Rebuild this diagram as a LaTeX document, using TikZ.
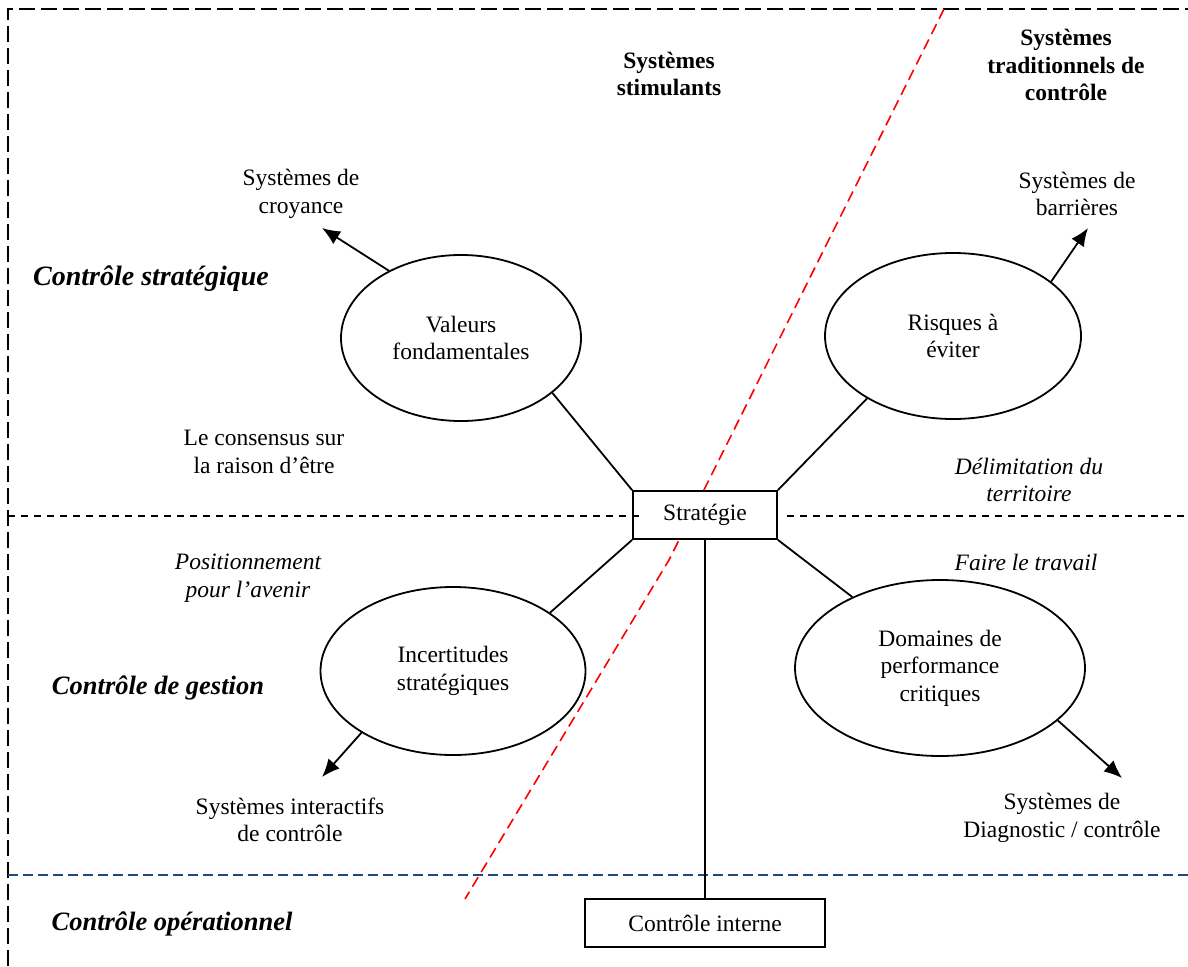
\documentclass[tikz,border=0pt]{standalone}
\usepackage{fontspec}
\setmainfont{Liberation Serif}
\usetikzlibrary{shapes.geometric,arrows.meta}
\definecolor{navy}{RGB}{31,73,125}
\begin{document}
\begin{tikzpicture}[x=1pt,y=-1pt,
  every node/.style={font=\fontsize{23.5}{27.5}\selectfont, align=center, inner sep=0pt},
  oval/.style={ellipse, draw, line width=1.8pt},
  rbox/.style={draw, line width=1.8pt, fill=white, rectangle},
  link/.style={line width=1.8pt},
  arr/.style={line width=1.8pt, -{Latex[length=18pt,width=15pt]}},
  head/.style={font=\fontsize{23.5}{27.5}\selectfont\bfseries},
  lvl/.style={font=\fontsize{26.5}{30}\selectfont\bfseries\itshape},
  note/.style={font=\fontsize{23.5}{27.5}\selectfont\itshape},
  frame/.style={line width=2pt, dash pattern=on 16pt off 6pt},
  sep/.style={line width=1.5pt, dash pattern=on 7pt off 6pt},
]
\useasboundingbox (0,0) rectangle (1188,966);
% frame
\coordinate (f1) at (8,9);
\coordinate (f2) at (1188,9);
\coordinate (f3) at (8,966);
\draw[frame] (f3) -- (f1) -- (f2);
% operational separator
\coordinate (b1) at (8,875);
\coordinate (b2) at (1188,875);
\draw[navy, line width=1.5pt, dash pattern=on 10pt off 5pt] (b1) -- (b2);
% red diagonal
\coordinate (r1) at (944,9);
\coordinate (r2) at (669,560);
\coordinate (r3) at (465,899);
\draw[red, line width=1.6pt, dash pattern=on 11pt off 6pt] (r1) -- (r2) -- (r3);

% ellipses
\node[oval, minimum width=240pt, minimum height=166pt] (val) at (461,338) {Valeurs\\fondamentales};
\node[oval, minimum width=256pt, minimum height=166pt] (ris) at (953,336) {Risques à\\éviter};
\node[oval, minimum width=265pt, minimum height=168pt] (inc) at (453,671) {Incertitudes\\stratégiques};
\node[oval, minimum width=290pt, minimum height=176pt] (dom) at (940,668) {Domaines de\\performance\\critiques};

% boxes
\node[rbox, minimum width=144pt, minimum height=48pt] (str) at (705,515) {Stratégie};
\node[rbox, minimum width=240pt, minimum height=48pt] (ci) at (705,923) {Contrôle interne};

% strategic separator
\coordinate (s1) at (8,516);
\coordinate (s2) at (643,516);
\coordinate (s3) at (787,516);
\coordinate (s4) at (1188,516);
\draw[sep] (s1) -- (s2);
\draw[sep] (s3) -- (s4);

% connectors
\draw[link] (str.north west) -- (val.-31.7);
\draw[link] (str.north east) -- (ris.-144.4);
\draw[link] (str.south west) -- (inc.31.5);
\draw[link] (str.south east) -- (dom.141.5);
\draw[link] (str.south) -- (ci.north);

% arrows
\coordinate (croyT) at (322,228);
\coordinate (barrT) at (1088,228);
\coordinate (interT) at (322,777);
\coordinate (diagT) at (1122,778);
\draw[arr] (val.137) -- (croyT);
\draw[arr] (ris.29) -- (barrT);
\draw[arr] (inc.-146.7) -- (interT);
\draw[arr] (dom.-24) -- (diagT);

% texts
\node[head] (tstim) at (669,74) {Systèmes\\stimulants};
\node[head] (ttrad) at (1066,65) {Systèmes\\traditionnels de\\contrôle};
\node (tcroy) at (301,194) {Systèmes de\\croyance};
\node (tbarr) at (1077,194) {Systèmes de\\barrières};
\node[lvl, font=\fontsize{28}{31}\selectfont\bfseries\itshape] (lstrat) at (151,279) {Contrôle stratégique};
\node (tcons) at (264,452) {Le consensus sur\\la raison d’être};
\node[note] (tdelim) at (1029,480) {Délimitation du\\territoire};
\node[note] (tpos) at (248,578) {Positionnement\\pour l’avenir};
\node[note] (tfaire) at (1026,562) {Faire le travail};
\node[lvl] (lgest) at (158,688) {Contrôle de gestion};
\node (tinter) at (290,820) {Systèmes interactifs\\de contrôle};
\node (tdiag) at (1062,818) {Systèmes de\\Diagnostic / contrôle};
\node[lvl] (lop) at (172,924) {Contrôle opérationnel};
\end{tikzpicture}
\end{document}
